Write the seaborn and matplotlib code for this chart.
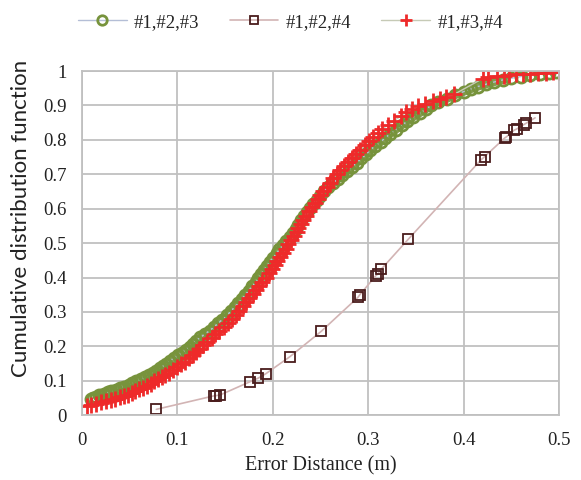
import numpy as np
import seaborn as sns
import matplotlib.pyplot as plt

# #1,#2,#3  (error distance, cdf)
s123_x = [0.009, 0.012, 0.015, 0.018, 0.023, 0.027, 0.031, 0.036, 0.040, 0.044, 0.049, 0.053, 0.057, 0.062,
          0.066, 0.070, 0.074, 0.078, 0.082, 0.085, 0.088, 0.092, 0.097, 0.101, 0.105, 0.109, 0.113, 0.116,
          0.120, 0.124, 0.129, 0.134, 0.138, 0.143, 0.147, 0.152, 0.156, 0.160, 0.164, 0.168, 0.171, 0.175,
          0.178, 0.182, 0.185, 0.188, 0.191, 0.194, 0.197, 0.200, 0.204, 0.207, 0.211, 0.214, 0.218, 0.221,
          0.224, 0.227, 0.230, 0.233, 0.236, 0.239, 0.242, 0.246, 0.250, 0.254, 0.258, 0.263, 0.268, 0.273,
          0.278, 0.283, 0.288, 0.293, 0.298, 0.302, 0.307, 0.313, 0.318, 0.323, 0.329, 0.335, 0.341, 0.347,
          0.354, 0.361, 0.366, 0.373, 0.383, 0.391, 0.400, 0.408, 0.415, 0.424, 0.432, 0.441, 0.450, 0.460,
          0.470, 0.480, 0.490, 0.497]
s123_y = [0.046, 0.050, 0.054, 0.058, 0.062, 0.066, 0.070, 0.074, 0.078, 0.083, 0.088, 0.093, 0.098, 0.104,
          0.110, 0.116, 0.122, 0.129, 0.136, 0.143, 0.150, 0.158, 0.166, 0.174, 0.182, 0.190, 0.199, 0.208,
          0.217, 0.226, 0.236, 0.246, 0.256, 0.267, 0.278, 0.290, 0.302, 0.314, 0.326, 0.338, 0.350, 0.362,
          0.374, 0.386, 0.398, 0.410, 0.422, 0.434, 0.446, 0.458, 0.470, 0.482, 0.494, 0.506, 0.518, 0.530,
          0.542, 0.554, 0.566, 0.578, 0.590, 0.602, 0.614, 0.626, 0.638, 0.650, 0.662, 0.674, 0.686, 0.698,
          0.710, 0.722, 0.734, 0.746, 0.758, 0.770, 0.782, 0.794, 0.806, 0.818, 0.830, 0.842, 0.854, 0.866,
          0.878, 0.890, 0.900, 0.910, 0.920, 0.930, 0.940, 0.948, 0.955, 0.962, 0.968, 0.974, 0.979, 0.984,
          0.988, 0.992, 0.995, 0.997]

# #1,#2,#4
s124_x = [0.078, 0.138, 0.141, 0.145, 0.176, 0.185, 0.193, 0.218, 0.251, 0.2895, 0.291, 0.308, 0.310, 0.314,
          0.342, 0.418, 0.422, 0.443, 0.445, 0.453, 0.456, 0.463, 0.466, 0.475]
s124_y = [0.017, 0.056, 0.057, 0.059, 0.097, 0.108, 0.121, 0.170, 0.244, 0.343, 0.349, 0.405, 0.410, 0.425,
          0.511, 0.741, 0.751, 0.805, 0.809, 0.828, 0.832, 0.844, 0.849, 0.864]

# #1,#3,#4
s134_x = [0.005, 0.010, 0.015, 0.020, 0.025, 0.030, 0.035, 0.040, 0.044, 0.048, 0.052, 0.056, 0.060, 0.064,
          0.068, 0.072, 0.076, 0.080, 0.084, 0.087, 0.091, 0.095, 0.100, 0.104, 0.108, 0.112, 0.116, 0.120,
          0.123, 0.127, 0.131, 0.136, 0.140, 0.144, 0.149, 0.153, 0.157, 0.161, 0.165, 0.169, 0.172, 0.175,
          0.179, 0.182, 0.186, 0.189, 0.193, 0.196, 0.199, 0.202, 0.205, 0.208, 0.211, 0.214, 0.216, 0.219,
          0.222, 0.225, 0.227, 0.230, 0.232, 0.235, 0.238, 0.241, 0.244, 0.247, 0.250, 0.253, 0.257, 0.260,
          0.263, 0.267, 0.271, 0.275, 0.279, 0.283, 0.287, 0.292, 0.297, 0.301, 0.305, 0.310, 0.315, 0.321,
          0.327, 0.334, 0.340, 0.346, 0.352, 0.360, 0.368, 0.375, 0.382, 0.390, 0.420, 0.426, 0.435, 0.442,
          0.448, 0.455, 0.462, 0.470, 0.478, 0.486, 0.494, 0.500]
s134_y = [0.027, 0.030, 0.033, 0.037, 0.040, 0.044, 0.048, 0.052, 0.056, 0.060, 0.065, 0.070, 0.075, 0.080,
          0.086, 0.092, 0.098, 0.104, 0.110, 0.117, 0.124, 0.132, 0.140, 0.148, 0.156, 0.165, 0.174, 0.183,
          0.193, 0.203, 0.213, 0.224, 0.235, 0.246, 0.257, 0.268, 0.280, 0.292, 0.304, 0.316, 0.328, 0.340,
          0.352, 0.364, 0.376, 0.388, 0.400, 0.412, 0.424, 0.436, 0.448, 0.460, 0.472, 0.484, 0.496, 0.508,
          0.520, 0.532, 0.544, 0.556, 0.568, 0.580, 0.592, 0.604, 0.616, 0.628, 0.640, 0.652, 0.664, 0.676,
          0.688, 0.700, 0.712, 0.724, 0.736, 0.748, 0.760, 0.772, 0.784, 0.796, 0.808, 0.820, 0.832, 0.844,
          0.856, 0.868, 0.880, 0.890, 0.898, 0.905, 0.912, 0.918, 0.925, 0.932, 0.978, 0.982, 0.985, 0.987,
          0.989, 0.990, 0.991, 0.992, 0.993, 0.995, 0.997, 0.998]

x_ticks = [0, 0.1, 0.2, 0.3, 0.4, 0.5]
y_ticks = [0, 0.1, 0.2, 0.3, 0.4, 0.5, 0.6, 0.7, 0.8, 0.9, 1]

green = "#77933C"
brown = "#4A1C1C"
red = "#EE2A2A"

sns.set_style("whitegrid")
plt.rcParams['font.family'] = ['Liberation Serif', 'DejaVu Serif']

fig = plt.figure(figsize=(5.81, 4.8), dpi=100)
ax = fig.add_axes([0.141, 0.135, 0.821, 0.717])

# dense bands under the markers (the overlapping points look solid in the original)
sns.lineplot(x=s123_x[4:-6], y=s123_y[4:-6], ax=ax, estimator=None, sort=False, color=green,
             linewidth=6, alpha=0.9)
sns.lineplot(x=s134_x[4:-26], y=s134_y[4:-26], ax=ax, estimator=None, sort=False, color=red,
             linewidth=6, alpha=0.9)

sns.lineplot(x=s123_x, y=s123_y, ax=ax, estimator=None, sort=False, color="#B4BED6", linewidth=1,
             marker="o", markersize=8, markerfacecolor="none", markeredgecolor=green,
             markeredgewidth=2, label="#1,#2,#3")
sns.lineplot(x=s124_x, y=s124_y, ax=ax, estimator=None, sort=False, color="#D2B4B4", linewidth=1.2,
             marker="s", markersize=7, markerfacecolor="none", markeredgecolor=brown,
             markeredgewidth=1.3, label="#1,#2,#4")
sns.lineplot(x=s134_x, y=s134_y, ax=ax, estimator=None, sort=False, color="#C6CAB6", linewidth=1,
             marker="+", markersize=11, markeredgecolor=red,
             markeredgewidth=2, label="#1,#3,#4")

ax.set_xlim(0, 0.5)
ax.set_ylim(0, 1)
ax.set_xticks(x_ticks)
ax.set_xticklabels(["0", "0.1", "0.2", "0.3", "0.4", "0.5"])
ax.set_yticks(y_ticks)
ax.set_yticklabels(["0", "0.1", "0.2", "0.3", "0.4", "0.5", "0.6", "0.7", "0.8", "0.9", "1"])
ax.tick_params(axis="both", length=0, labelsize=13.5, colors="#222222")
ax.tick_params(axis="x", pad=12)
ax.tick_params(axis="y", pad=11)
ax.grid(True, color="#C0C0C0", linewidth=1.3)
for sp in ax.spines.values():
    sp.set_color("#C0C0C0")
    sp.set_linewidth(1.3)

ax.set_xlabel("Error Distance (m)", fontsize=14.5, color="#222222", labelpad=5)
ax.set_ylabel("Cumulative distribution function", fontsize=16, color="#222222",
              family=["Lato", "DejaVu Sans"])
ax.yaxis.set_label_coords(-0.107, 0.573)

ax.legend_.remove()
handles, labels = ax.get_legend_handles_labels()
fig.legend(handles, labels, loc="center", bbox_to_anchor=(0.5, 0.954), ncol=3, frameon=False,
           fontsize=13.5, handlelength=2.6, columnspacing=1.6, handletextpad=0.4, markerscale=0.85)

fig.savefig("out.png", dpi=100)
